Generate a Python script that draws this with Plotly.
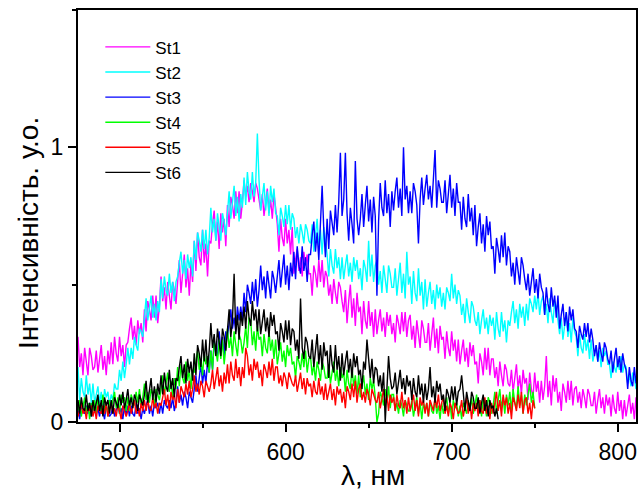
import plotly.graph_objects as go

# wavelength grid (nm), 1 nm sampling
WL = list(range(475, 812))

st1 = [.31,.20,.25,.17,.27,.22,.17,.27,.24,.19,
       .20,.26,.18,.23,.28,.19,.24,.17,.26,.21,
       .29,.21,.31,.25,.22,.31,.24,.28,.20,.28,
       .29,.34,.38,.30,.35,.28,.37,.32,.36,.29,
       .41,.33,.44,.41,.37,.46,.38,.46,.36,.42,
       .53,.44,.49,.41,.51,.46,.41,.51,.48,.43,
       .51,.59,.47,.55,.61,.49,.56,.46,.58,.51,
       .66,.55,.69,.60,.57,.70,.58,.65,.53,.66,
       .65,.72,.77,.66,.73,.63,.76,.69,.74,.64,
       .79,.71,.82,.79,.74,.84,.76,.84,.74,.80,
       .88,.82,.86,.80,.87,.84,.80,.87,.85,.81,
       .77,.83,.75,.80,.85,.76,.81,.74,.83,.78,
       .72,.62,.74,.67,.64,.74,.65,.70,.61,.71,
       .54,.59,.63,.55,.60,.53,.62,.57,.61,.54,
       .54,.46,.57,.54,.49,.59,.51,.59,.49,.55,
       .53,.46,.50,.43,.52,.47,.43,.51,.49,.44,
       .40,.48,.36,.44,.50,.38,.45,.35,.47,.40,
       .42,.32,.44,.37,.34,.44,.35,.40,.31,.41,
       .32,.37,.41,.33,.38,.31,.40,.35,.39,.32,
       .36,.29,.39,.36,.32,.40,.33,.40,.31,.37,
       .39,.30,.35,.27,.37,.32,.27,.37,.34,.29,
       .29,.36,.26,.32,.38,.27,.34,.25,.35,.30,
       .31,.23,.33,.27,.24,.33,.26,.30,.22,.30,
       .21,.26,.30,.22,.27,.20,.29,.24,.28,.21,
       .22,.14,.25,.22,.17,.27,.19,.27,.17,.23,
       .23,.16,.20,.13,.22,.17,.13,.21,.19,.14,
       .13,.19,.11,.16,.21,.12,.17,.10,.19,.14,
       .16,.08,.18,.12,.09,.18,.11,.15,.07,.15,
       .08,.13,.24,.09,.15,.06,.17,.11,.16,.07,
       .11,.04,.14,.11,.07,.15,.08,.15,.06,.12,
       .13,.07,.11,.05,.12,.09,.05,.12,.10,.06,
       .06,.11,.03,.08,.12,.05,.09,.03,.10,.06,
       .09,.02,.10,.05,.03,.11,.04,.08,.01,.08,
       .02,.06,.10,.03,.07,.01,.09]

st2 = [.20,.08,.16,.11,.09,.17,.10,.14,.07,.14,
       .07,.10,.13,.07,.11,.05,.12,.09,.11,.06,
       .10,.08,.14,.12,.12,.19,.15,.22,.16,.21,
       .27,.21,.27,.23,.31,.28,.26,.34,.33,.31,
       .39,.45,.37,.42,.46,.38,.43,.37,.44,.40,
       .52,.45,.53,.48,.46,.54,.47,.51,.44,.51,
       .53,.58,.62,.54,.59,.52,.61,.56,.60,.53,
       .66,.59,.69,.66,.62,.70,.63,.70,.61,.67,
       .78,.69,.74,.66,.76,.71,.66,.76,.73,.68,
       .77,.84,.74,.80,.86,.75,.82,.73,.83,.78,
       .89,.79,.91,.84,.81,.91,.82,.87,1.05,.88,
       .77,.82,.87,.77,.84,.75,.86,.80,.85,.76,
       .75,.68,.78,.75,.71,.79,.72,.79,.70,.76,
       .74,.67,.71,.65,.72,.69,.65,.72,.70,.66,
       .65,.72,.62,.68,.74,.63,.70,.61,.71,.66,
       .61,.53,.63,.57,.54,.63,.56,.60,.52,.60,
       .52,.57,.61,.53,.58,.51,.60,.55,.59,.52,
       .56,.48,.59,.56,.51,.66,.53,.61,.51,.57,
       .59,.50,.55,.47,.57,.52,.47,.57,.54,.49,
       .49,.56,.46,.52,.58,.47,.54,.45,.62,.50,
       .53,.43,.55,.47,.44,.56,.46,.51,.41,.52,
       .42,.47,.51,.43,.48,.41,.50,.45,.49,.42,
       .47,.41,.49,.47,.44,.54,.45,.50,.43,.48,
       .46,.39,.43,.36,.45,.40,.36,.44,.42,.37,
       .35,.40,.32,.37,.41,.34,.38,.32,.39,.35,
       .38,.30,.40,.34,.31,.40,.33,.37,.29,.37,
       .35,.40,.44,.36,.41,.34,.43,.38,.42,.35,
       .43,.37,.45,.43,.40,.46,.41,.47,.39,.44,
       .46,.39,.43,.36,.45,.40,.36,.44,.42,.37,
       .32,.38,.30,.35,.40,.31,.36,.29,.38,.33,
       .31,.24,.32,.27,.25,.32,.26,.30,.23,.30,
       .22,.25,.28,.22,.26,.20,.27,.24,.26,.21,
       .21,.16,.22,.20,.18,.23,.19,.24,.18,.21,
       .20,.14,.17,.13,.18,.16,.12]

st3 = [.05,.01,.06,.04,.03,.06,.03,.07,.02,.05,
       .07,.03,.05,.02,.06,.04,.01,.06,.04,.02,
       .03,.06,.02,.05,.07,.03,.05,.01,.06,.03,
       .06,.02,.06,.03,.02,.07,.03,.05,.01,.05,
       .03,.06,.08,.03,.06,.02,.07,.05,.07,.03,
       .07,.03,.08,.06,.05,.08,.05,.09,.04,.07,
       .13,.07,.10,.06,.11,.09,.05,.11,.09,.07,
       .12,.17,.11,.16,.21,.14,.19,.14,.22,.18,
       .26,.19,.30,.25,.24,.33,.26,.31,.24,.33,
       .31,.36,.41,.34,.38,.33,.42,.37,.42,.37,
       .47,.40,.50,.47,.43,.51,.44,.52,.42,.48,
       .57,.48,.53,.45,.55,.50,.45,.55,.52,.47,
       .52,.59,.49,.55,.61,.50,.57,.48,.58,.53,
       .62,.52,.64,.57,.54,.64,.55,.60,.51,.61,
       .61,.68,.73,.62,.69,.59,.72,.86,.70,.60,
       .74,.63,.77,.73,.68,.79,.69,.80,.98,.75,
       .81,.98,.76,.66,.78,.72,.65,.95,.74,.68,
       .74,.83,.71,.79,.86,.73,.81,.69,.82,.75,
       .46,.73,.87,.78,.75,.88,.76,.83,.71,.84,
       .77,.84,.89,.78,.85,.75,1.00,.81,.86,.76,
       .84,.76,.87,.84,.79,.65,.81,.89,.79,.85,
       .90,.81,.86,.78,.88,.99,.78,.88,.85,.80,
       .80,.88,.76,.84,.90,.78,.85,.75,.87,.80,
       .80,.70,.82,.74,.71,.83,.73,.78,.68,.79,
       .64,.71,.76,.65,.72,.62,.75,.68,.73,.63,
       .64,.54,.67,.63,.58,.68,.60,.69,.57,.64,
       .62,.53,.58,.50,.60,.55,.50,.60,.57,.52,
       .48,.54,.46,.51,.56,.47,.52,.45,.54,.49,
       .47,.39,.49,.43,.40,.49,.42,.46,.38,.46,
       .34,.39,.43,.35,.40,.33,.42,.37,.41,.34,
       .33,.27,.35,.32,.30,.36,.31,.36,.29,.34,
       .30,.24,.28,.22,.29,.25,.22,.29,.27,.23,
       .21,.26,.18,.23,.27,.20,.24,.18,.25,.21,
       .19,.12,.20,.15,.13,.20,.14]

st4 = [.04,.08,.02,.06,.09,.03,.07,.01,.07,.04,
       .08,.03,.09,.05,.04,.10,.04,.07,.02,.08,
       .05,.08,.11,.05,.09,.03,.10,.07,.09,.04,
       .09,.04,.10,.08,.06,.11,.07,.12,.06,.09,
       .14,.08,.11,.07,.12,.10,.06,.12,.10,.08,
       .12,.17,.10,.14,.18,.11,.15,.09,.16,.12,
       .20,.13,.21,.16,.14,.22,.15,.19,.12,.19,
       .18,.22,.26,.19,.23,.17,.25,.21,.24,.18,
       .26,.19,.29,.26,.22,.30,.23,.30,.21,.27,
       .34,.27,.31,.24,.33,.28,.24,.32,.30,.25,
       .29,.35,.27,.38,.37,.28,.33,.26,.35,.30,
       .31,.24,.32,.27,.25,.33,.26,.30,.23,.30,
       .21,.25,.29,.22,.26,.20,.28,.24,.27,.21,
       .22,.16,.24,.22,.19,.25,.20,.26,.18,.23,
       .24,.17,.21,.15,.22,.19,.15,.22,.20,.16,
       .16,.21,.14,.18,.22,.15,.19,.13,.20,.16,
       .18,.11,.19,.14,.12,.20,.13,.17,.10,.17,
       .09,.13,.17,.10,.14,.08,.16,.12,.15,.09,
       .00,.03,.11,.09,.06,.12,.07,.13,.05,.10,
       .10,.04,.07,.03,.08,.06,.02,.08,.06,.04,
       .04,.08,.02,.06,.09,.03,.07,.01,.07,.04,
       .07,.02,.08,.04,.03,.09,.03,.06,.01,.07,
       .03,.06,.09,.03,.07,.01,.08,.05,.07,.02,
       .06,.01,.07,.05,.03,.08,.04,.09,.03,.06,
       .10,.04,.08,.02,.09,.06,.02,.09,.07,.03,
       .06,.11,.03,.08,.12,.05,.09,.03,.10,.06,
       .11,.04,.12,.07,.05,.13,.06,.10,.03,.10,
       .06,.10,.14,.07,.11,.05]

st5 = [.02,.05,.07,.03,.05,.01,.06,.04,.06,.02,
       .05,.01,.06,.04,.03,.06,.03,.07,.02,.05,
       .07,.03,.05,.02,.06,.04,.01,.06,.04,.02,
       .04,.07,.03,.06,.08,.03,.06,.02,.07,.04,
       .08,.04,.08,.05,.04,.09,.05,.07,.03,.07,
       .06,.09,.12,.06,.10,.04,.11,.08,.10,.05,
       .12,.07,.13,.11,.09,.14,.10,.15,.09,.12,
       .17,.11,.14,.10,.15,.13,.09,.15,.13,.11,
       .14,.19,.12,.16,.20,.13,.17,.11,.18,.14,
       .21,.14,.22,.17,.15,.23,.16,.20,.13,.20,
       .16,.27,.24,.17,.21,.15,.23,.19,.22,.16,
       .19,.13,.21,.19,.16,.22,.17,.23,.15,.20,
       .20,.14,.17,.13,.18,.16,.12,.18,.16,.14,
       .13,.17,.11,.15,.18,.12,.16,.10,.16,.13,
       .14,.09,.15,.11,.10,.16,.10,.13,.08,.14,
       .08,.11,.14,.08,.12,.06,.13,.10,.12,.07,
       .11,.05,.13,.11,.08,.14,.09,.15,.07,.12,
       .14,.08,.11,.07,.12,.10,.06,.12,.10,.08,
       .07,.11,.05,.09,.12,.06,.10,.04,.10,.07,
       .09,.04,.10,.06,.05,.11,.05,.08,.03,.09,
       .04,.07,.10,.04,.08,.02,.09,.06,.08,.03,
       .07,.02,.08,.06,.04,.09,.05,.10,.04,.07,
       .09,.03,.06,.02,.07,.05,.01,.07,.05,.03,
       .04,.08,.02,.06,.09,.03,.07,.01,.07,.04,
       .07,.02,.08,.04,.03,.09,.03,.06,.01,.07,
       .03,.07,.11,.04,.08,.02,.10,.06,.09,.03,
       .07,.01,.09,.07,.04,.10,.05,.11,.03,.08,
       .09,.03,.07,.01,.08,.05]

st6 = [.08,.03,.09,.05,.04,.10,.04,.07,.02,.08,
       .04,.07,.10,.04,.08,.02,.09,.06,.08,.03,
       .08,.03,.09,.07,.05,.10,.06,.11,.05,.08,
       .12,.06,.09,.05,.10,.08,.04,.10,.08,.06,
       .10,.15,.07,.12,.16,.08,.13,.07,.14,.10,
       .17,.10,.18,.13,.11,.19,.12,.16,.09,.16,
       .15,.20,.24,.16,.21,.14,.23,.18,.22,.15,
       .25,.17,.28,.25,.20,.30,.22,.30,.20,.26,
       .36,.27,.32,.24,.34,.29,.24,.34,.31,.26,
       .34,.41,.31,.37,.54,.32,.39,.30,.40,.35,
       .42,.34,.44,.38,.35,.44,.37,.41,.33,.41,
       .32,.37,.41,.33,.38,.31,.40,.35,.39,.32,
       .33,.26,.36,.33,.29,.37,.30,.37,.28,.34,
       .33,.26,.30,.23,.45,.27,.23,.31,.29,.24,
       .23,.30,.20,.26,.32,.21,.28,.19,.29,.24,
       .26,.16,.28,.21,.18,.28,.19,.24,.15,.25,
       .17,.22,.26,.18,.23,.16,.25,.20,.24,.17,
       .19,.12,.22,.19,.30,.23,.16,.23,.14,.20,
       .19,.13,.17,.11,.18,.00,.11,.24,.16,.12,
       .13,.18,.10,.15,.19,.12,.16,.10,.17,.13,
       .15,.08,.16,.11,.09,.17,.10,.14,.07,.14,
       .08,.12,.20,.09,.13,.07,.15,.11,.14,.08,
       .10,.04,.12,.10,.07,.13,.08,.13,.06,.11,
       .12,.17,.10,.04,.11,.08,.04,.11,.09,.05,
       .05,.09,.03,.07,.10,.04,.08,.02,.08,.05,
       .06,.02,.05,.01]

names = ["St1", "St2", "St3", "St4", "St5", "St6"]
series = [st1, st2, st3, st4, st5, st6]
colors = ["#FF00FF", "#00FFFF", "#0000FF", "#00FF00", "#FF0000", "#000000"]

FONT = "Liberation Sans, Arial, sans-serif"

fig = go.Figure()
for nm, vals, col in zip(names, series, colors):
    fig.add_trace(go.Scatter(x=WL[:len(vals)], y=vals, mode="lines", name=nm,
                             line=dict(color=col, width=1.4)))

axis_common = dict(showline=True, linecolor="black", linewidth=2, mirror=True,
                   ticks="outside", ticklen=8, tickwidth=1.5, tickcolor="black",
                   showgrid=False, zeroline=False,
                   tickfont=dict(family=FONT, size=23, color="black"))

fig.update_xaxes(range=[475, 811], tick0=0, dtick=100,
                 minor=dict(dtick=50, tick0=0, ticklen=4, tickwidth=1.5,
                            tickcolor="black", ticks="outside", showgrid=False),
                 **axis_common)
fig.update_yaxes(range=[0, 1.5], tick0=0, dtick=1,
                 minor=dict(dtick=0.5, tick0=0, ticklen=4, tickwidth=1.5,
                            tickcolor="black", ticks="outside", showgrid=False),
                 **axis_common)

fig.update_layout(
    width=643, height=490,
    margin=dict(l=78, r=5, t=10, b=68),
    plot_bgcolor="white", paper_bgcolor="white",
    font=dict(family=FONT, color="black"),
    showlegend=True,
    legend=dict(x=0.04, y=0.953, xanchor="left", yanchor="top",
                bgcolor="rgba(0,0,0,0)", borderwidth=0,
                font=dict(family=FONT, size=17, color="black"),
                itemwidth=45),
    annotations=[
        dict(text="λ, нм", xref="paper", yref="paper", x=0.529, y=-0.131,
             xanchor="center", yanchor="middle", showarrow=False,
             font=dict(family=FONT, size=28, color="black")),
        dict(text="Інтенсивність. у.о.", xref="paper", yref="paper",
             x=-0.0875, y=0.459, xanchor="center", yanchor="middle",
             textangle=-90, showarrow=False,
             font=dict(family=FONT, size=28, color="black")),
    ],
)

fig.write_html("out.html")
